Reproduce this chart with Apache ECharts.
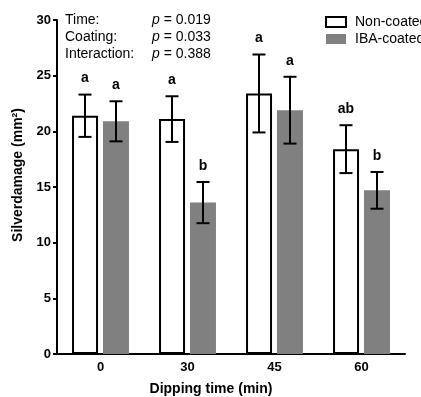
<!DOCTYPE html>
<html>
<head>
<meta charset="utf-8">
<script src="https://cdn.jsdelivr.net/npm/echarts@6/dist/echarts.min.js"></script>
<style>
  html, body { margin: 0; padding: 0; background: #fff; }
  #chart { width: 421px; height: 397px; }
</style>
</head>
<body>
<div id="chart"></div>
<script>
const categories = ["0", "30", "45", "60"]
const nonCoated = [21.4, 21.1, 23.4, 18.4]
const nonCoatedErr = [1.9, 2.05, 3.5, 2.15]
const nonCoatedLetters = ["a", "a", "a", "ab"]
const ibaCoated = [20.9, 13.6, 21.9, 14.7]
const ibaCoatedErr = [1.8, 1.85, 3.0, 1.65]
const ibaCoatedLetters = ["a", "b", "a", "b"]
const yTicks = [0, 5, 10, 15, 20, 25, 30]
const stats = [
  ["Time:", "0.019"],
  ["Coating:", "0.033"],
  ["Interaction:", "0.388"],
]

const FONT = "'Liberation Sans', Arial, sans-serif"
const BAR_W = 26
const BAR_OFFSET = 15.5

const chart = echarts.init(document.getElementById("chart"))

function errorSeries(name, means, errs, letters, offset) {
  return {
    name: name + " err",
    type: "custom",
    z: 5,
    data: means.map((m, i) => [i, m, errs[i]]),
    renderItem: (params, api) => {
      const idx = api.value(0)
      const mean = api.value(1)
      const err = api.value(2)
      const x = api.coord([idx, mean])[0] + offset
      const top = api.coord([idx, mean + err])[1]
      const bot = api.coord([idx, mean - err])[1]
      const cap = 6.5
      const ls = { stroke: "#000", lineWidth: 2 }
      return {
        type: "group",
        children: [
          { type: "line", shape: { x1: x, y1: top, x2: x, y2: bot }, style: ls },
          { type: "line", shape: { x1: x - cap, y1: top, x2: x + cap, y2: top }, style: ls },
          { type: "line", shape: { x1: x - cap, y1: bot, x2: x + cap, y2: bot }, style: ls },
          {
            type: "text",
            x: x,
            y: top - 16,
            style: {
              text: letters[params.dataIndex],
              font: "bold 14px " + FONT,
              fill: "#000",
              align: "center",
              verticalAlign: "middle",
            },
          },
        ],
      }
    },
  }
}

const statGraphics = []
stats.forEach((row, i) => {
  const y = 20 + i * 17
  statGraphics.push({
    type: "text",
    x: 65,
    y: y,
    style: { text: row[0], font: "14px " + FONT, fill: "#000", verticalAlign: "middle" },
  })
  statGraphics.push({
    type: "text",
    x: 152,
    y: y,
    style: {
      text: "{i|p} = " + row[1],
      font: "14px " + FONT,
      fill: "#000",
      verticalAlign: "middle",
      rich: { i: { fontStyle: "italic", font: "italic 14px " + FONT } },
    },
  })
})

const option = {
  backgroundColor: "#fff",
  animation: false,
  textStyle: { fontFamily: FONT },
  grid: {
    left: 57,
    right: 16,
    top: 20,
    bottom: 43,
    containLabel: false,
    outerBoundsMode: "none",
  },
  legend: {
    orient: "vertical",
    left: 320,
    top: 10,
    itemWidth: 20,
    itemHeight: 10,
    itemGap: 3,
    icon: "rect",
    data: ["Non-coated", "IBA-coated"],
    textStyle: { fontSize: 14, color: "#000", fontFamily: FONT, padding: [0, 0, 0, 4] },
  },
  xAxis: {
    type: "category",
    data: categories,
    name: "Dipping time (min)",
    nameLocation: "middle",
    nameGap: 28,
    nameTextStyle: { fontSize: 14, fontWeight: "bold", color: "#000", padding: [0, 40, 0, 0] },
    axisLine: { lineStyle: { color: "#000", width: 2 } },
    axisTick: { alignWithLabel: true, length: 4, lineStyle: { color: "#000", width: 2 } },
    axisLabel: { fontSize: 13, fontWeight: "bold", color: "#000", margin: 7 },
  },
  yAxis: {
    type: "value",
    min: yTicks[0],
    max: yTicks[yTicks.length - 1],
    interval: yTicks[1] - yTicks[0],
    name: "Silverdamage (mm²)",
    nameLocation: "middle",
    nameGap: 29,
    nameTextStyle: { fontSize: 14, fontWeight: "bold", color: "#000", padding: [0, 0, 0, 24] },
    axisLine: { show: true, lineStyle: { color: "#000", width: 2 } },
    axisTick: { show: true, length: 4, lineStyle: { color: "#000", width: 2 } },
    axisLabel: { fontSize: 13, fontWeight: "bold", color: "#000", margin: 6 },
    splitLine: { show: false },
  },
  graphic: statGraphics,
  series: [
    {
      name: "Non-coated",
      type: "bar",
      data: nonCoated,
      barWidth: BAR_W,
      barGap: "19%",
      itemStyle: { color: "#fff", borderColor: "#000", borderWidth: 2 },
    },
    {
      name: "IBA-coated",
      type: "bar",
      data: ibaCoated,
      barWidth: BAR_W,
      barGap: "19%",
      itemStyle: { color: "#808080" },
    },
    errorSeries("Non-coated", nonCoated, nonCoatedErr, nonCoatedLetters, -BAR_OFFSET),
    errorSeries("IBA-coated", ibaCoated, ibaCoatedErr, ibaCoatedLetters, BAR_OFFSET),
  ],
}

chart.setOption(option)
</script>
</body>
</html>
